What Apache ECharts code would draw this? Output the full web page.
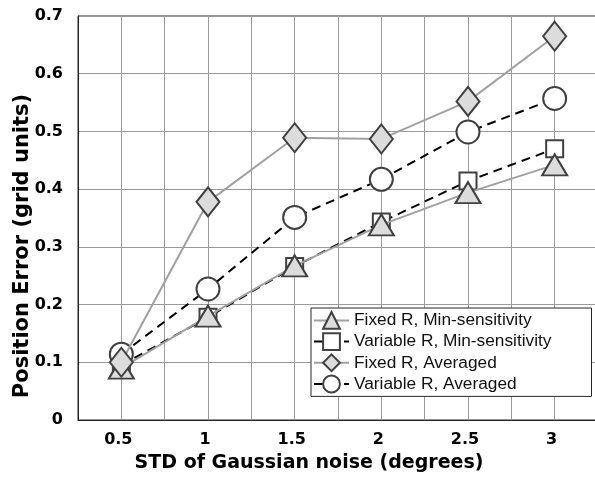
<!DOCTYPE html>
<html><head><meta charset="utf-8">
<script src="https://cdn.jsdelivr.net/npm/echarts@6/dist/echarts.min.js"></script>
<style>html,body{margin:0;padding:0;background:#fff}#c{width:595px;height:478px}</style>
</head><body><div id="c"></div>
<script>
const xValues = [0.5, 1, 1.5, 2, 2.5, 3];
const fixedMin = [0.090, 0.180, 0.267, 0.338, 0.394, 0.442];
const variableMin = [0.095, 0.178, 0.266, 0.343, 0.414, 0.470];
const fixedAvg = [0.100, 0.378, 0.489, 0.487, 0.552, 0.665];
const variableAvg = [0.114, 0.227, 0.351, 0.417, 0.499, 0.557];
const names = ['Fixed R, Min-sensitivity', 'Variable R, Min-sensitivity', 'Fixed R, Averaged', 'Variable R, Averaged'];
const xTicks = ['0.5', '1', '1.5', '2', '2.5', '3'];
const yTicks = ['0', '0.1', '0.2', '0.3', '0.4', '0.5', '0.6', '0.7'];

const pair = arr => xValues.map((x, i) => [x, arr[i]]);
const font = 'Liberation Sans, Arial, Helvetica, sans-serif';
const boldFont = 'DejaVu Sans, Liberation Sans, Arial, sans-serif';
const edge = '#404040';
const chart = echarts.init(document.getElementById('c'), null, {renderer: 'canvas'});

function series(name, data, symbol, size, fill, lineColor, dashed, z) {
  return {
    name, type: 'line', data: pair(data), symbol, symbolSize: size, z,
    lineStyle: {color: lineColor, width: 2, type: dashed ? [9, 6] : 'solid'},
    itemStyle: {color: fill, borderColor: edge, borderWidth: 2},
    emphasis: {disabled: true}, animation: false
  };
}

chart.setOption({
  animation: false,
  grid: {left: 78, top: 16, right: -3, bottom: 58, show: true, borderColor: '#262626', borderWidth: 1,
    containLabel: false, outerBoundsMode: 'none'},
  legend: {
    data: names, left: 311, top: 308, orient: 'vertical',
    itemWidth: 35, itemHeight: 21, itemGap: 2.4, padding: [3, 40, 3, 2],
    backgroundColor: '#fff', borderColor: '#262626', borderWidth: 1, borderRadius: 0,
    textStyle: {fontFamily: font, fontSize: 17.3, color: '#111'}
  },
  xAxis: {
    type: 'value', min: 0.25, max: 3.25, interval: 0.25,
    name: 'STD of Gaussian noise (degrees)', nameLocation: 'middle', nameGap: 34, nameMoveOverlap: false,
    nameTextStyle: {fontFamily: boldFont, fontSize: 19, fontWeight: 'bold', color: '#000', padding: [0, 58, 0, 0]},
    axisLine: {show: true, onZero: false, lineStyle: {color: '#262626', width: 1}},
    axisTick: {show: false},
    axisLabel: {margin: 12, fontFamily: boldFont, fontSize: 16, fontWeight: 'bold', color: '#000', padding: [0, 6, 0, 0],
      formatter: v => { const s = xTicks.find(t => Math.abs(parseFloat(t) - v) < 1e-6); return s || ''; }},
    splitLine: {show: true, lineStyle: {color: '#9a9a9a', width: 1},
      showMinLine: false, showMaxLine: false},
  },
  yAxis: {
    type: 'value', min: 0, max: 0.7, interval: 0.1,
    name: 'Position Error (grid units)', nameLocation: 'middle', nameGap: 45, nameMoveOverlap: false,
    nameTextStyle: {fontFamily: boldFont, fontSize: 21, fontWeight: 'bold', color: '#000', padding: [0, 56, 0, 0]},
    axisLine: {show: true, lineStyle: {color: '#262626', width: 1}},
    axisTick: {show: false},
    axisLabel: {margin: 15, fontFamily: boldFont, fontSize: 16, fontWeight: 'bold', color: '#000',
      formatter: v => yTicks[Math.round(v * 10)]},
    splitLine: {show: true, lineStyle: {color: '#9a9a9a', width: 1}}
  },
  series: [
    series(names[1], variableMin, 'rect', 17, '#fff', '#000', true, 2),
    series(names[0], fixedMin, 'triangle', [25, 21], '#dcdcdc', '#a0a0a0', false, 3),
    series(names[3], variableAvg, 'circle', 23, '#fff', '#000', true, 4),
    series(names[2], fixedAvg, 'diamond', [23, 29], '#dcdcdc', '#a0a0a0', false, 5)
  ]
});
</script></body></html>
